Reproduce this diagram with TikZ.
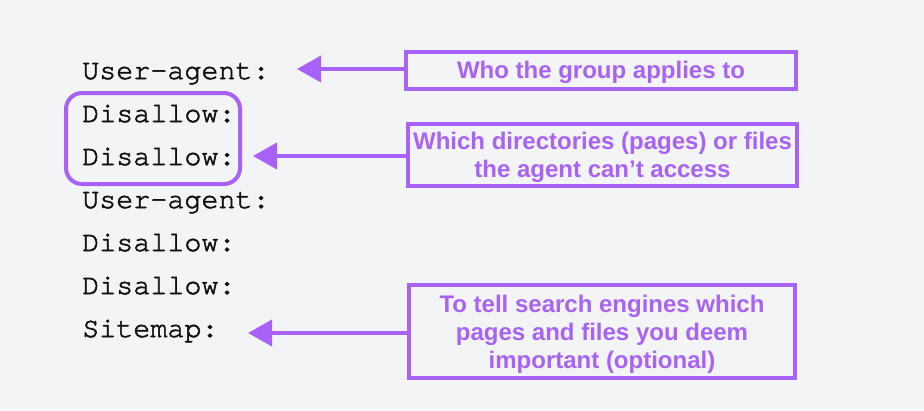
\documentclass[tikz,border=0pt]{standalone}
\usepackage{fontspec}
\setmainfont{Liberation Sans}
\newfontfamily\codefont{texgyrecursor-regular.otf}[FakeBold=2]
\usetikzlibrary{arrows.meta}
\definecolor{bgc}{HTML}{F3F4F6}
\definecolor{purp}{HTML}{A862F7}
\definecolor{codec}{HTML}{111111}
\tikzset{
  codeline/.style={anchor=base west, inner sep=0pt, text=codec, font=\codefont\fontsize{28.4}{29}\selectfont},
  notebox/.style={draw=purp, line width=4pt, inner sep=0pt},
  notetext/.style={text=purp, align=center, inner sep=0pt, font=\bfseries\fontsize{24}{28}\selectfont},
  pointer/.style={draw=purp, line width=4pt, -{Triangle[length=24pt,width=26pt]}},
  groupbox/.style={draw=purp, line width=4pt, rounded corners=16pt}
}
\begin{document}
\begin{tikzpicture}[x=1pt,y=-1pt]
\fill[bgc] (0,0) rectangle (924,410);
\useasboundingbox (0,0) rectangle (924,410);
% code lines
\node[codeline] (l1) at (82,79) {User-agent:};
\node[codeline] (l2) at (82,122) {Disallow:};
\node[codeline] (l3) at (82,165) {Disallow:};
\node[codeline] (l4) at (82,208) {User-agent:};
\node[codeline] (l5) at (82,251) {Disallow:};
\node[codeline] (l6) at (82,294) {Disallow:};
\node[codeline] (l7) at (82,337) {Sitemap:};
% group box
\draw[groupbox] (66,93) rectangle (240,184);
% note boxes
\node[notebox, minimum width=390pt, minimum height=37pt] (b1) at (601,70.5) {};
\node[notebox, minimum width=389pt, minimum height=62pt] (b2) at (602.5,155) {};
\node[notebox, minimum width=386pt, minimum height=93pt] (b3) at (602,331.5) {};
\node[notetext] (b1t) at (601,72.5) {Who the group applies to};
\node[notetext] (b2t) at (602.5,157.5) {Which directories (pages) or files\\the agent can’t access};
\node[notetext] (b3t) at (602,334) {To tell search engines which\\pages and files you deem\\important (optional)};
% arrow tips
\coordinate (t1) at (297,69);
\coordinate (t2) at (253,156);
\coordinate (t3) at (248,333);
\draw[pointer] (b1.west |- t1) -- (t1);
\draw[pointer] (b2.west |- t2) -- (t2);
\draw[pointer] (b3.west |- t3) -- (t3);
\end{tikzpicture}
\end{document}
